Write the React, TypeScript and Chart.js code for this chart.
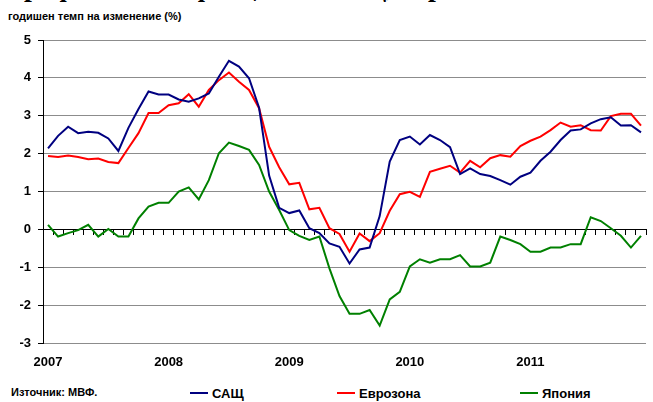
import React, { useEffect, useRef } from "react";
import { Chart, registerables } from "chart.js";

Chart.register(...registerables);

const years = ["2007", "2008", "2009", "2010", "2011"];
const monthCodes = ["01", "02", "03", "04", "05", "06", "07", "08", "09", "10", "11", "12"];
const categories = years.flatMap((y) => monthCodes.map((m) => `${y}-${m}`));

const usa = [
  2.14, 2.47, 2.71, 2.54, 2.58, 2.55, 2.40, 2.07, 2.68, 3.18, 3.64, 3.56,
  3.56, 3.43, 3.37, 3.46, 3.59, 4.03, 4.45, 4.30, 3.99, 3.21, 1.42, 0.57,
  0.43, 0.50, 0.03, -0.10, -0.37, -0.46, -0.90, -0.53, -0.48, 0.35, 1.79, 2.36,
  2.45, 2.24, 2.49, 2.36, 2.17, 1.46, 1.61, 1.46, 1.41, 1.30, 1.18, 1.39,
  1.50, 1.81, 2.05, 2.36, 2.61, 2.64, 2.80, 2.91, 2.96, 2.74, 2.75, 2.56,
];

const eurozone = [
  1.94, 1.91, 1.95, 1.91, 1.85, 1.87, 1.78, 1.75, 2.15, 2.54, 3.07, 3.07,
  3.28, 3.33, 3.57, 3.24, 3.68, 3.94, 4.14, 3.90, 3.68, 3.20, 2.18, 1.64,
  1.19, 1.23, 0.53, 0.57, 0.03, -0.12, -0.59, -0.11, -0.31, -0.10, 0.49, 0.93,
  0.99, 0.86, 1.52, 1.60, 1.68, 1.50, 1.81, 1.64, 1.88, 1.96, 1.92, 2.20,
  2.34, 2.45, 2.62, 2.82, 2.71, 2.75, 2.62, 2.61, 2.99, 3.05, 3.05, 2.74,
];

const japan = [
  0.12, -0.19, -0.10, -0.02, 0.12, -0.19, 0.01, -0.19, -0.19, 0.29, 0.60, 0.70,
  0.70, 1.00, 1.11, 0.79, 1.30, 2.01, 2.29, 2.20, 2.10, 1.70, 1.00, 0.51,
  -0.02, -0.17, -0.28, -0.19, -1.03, -1.76, -2.23, -2.23, -2.13, -2.54, -1.85, -1.65,
  -0.98, -0.79, -0.88, -0.79, -0.79, -0.68, -0.98, -0.98, -0.88, -0.19, -0.28, -0.39,
  -0.59, -0.59, -0.48, -0.48, -0.39, -0.39, 0.32, 0.22, 0.03, -0.17, -0.48, -0.17,
];

const seriesNames = ["САЩ", "Еврозона", "Япония"];
const seriesColors = ["#000080", "#FF0000", "#008000"];

const FONT = "Arial, 'Liberation Sans', sans-serif";

export default function App() {
  const ref = useRef<HTMLCanvasElement | null>(null);

  useEffect(() => {
    if (!ref.current) return;
    const chart = new Chart(ref.current, {
      type: "line",
      data: {
        labels: categories,
        datasets: [usa, eurozone, japan].map((d, i) => ({
          label: seriesNames[i],
          data: d,
          borderColor: seriesColors[i],
          backgroundColor: seriesColors[i],
          borderWidth: 2,
          pointRadius: 0,
          tension: 0,
          fill: false,
        })),
      },
      options: {
        animation: false,
        responsive: false,
        layout: { padding: { top: 40, right: 1, left: 0, bottom: 0 } },
        plugins: {
          legend: { display: false },
          tooltip: { enabled: false },
        },
        scales: {
          x: {
            type: "category",
            offset: true,
            position: "bottom",
            grid: { display: false, drawTicks: false },
            border: { display: false },
            ticks: {
              autoSkip: false,
              maxRotation: 0,
              padding: 12,
              color: "#000",
              font: { family: FONT, size: 13, weight: "bold" },
              callback: (_v: any, idx: number) => {
                const l = categories[idx];
                return l.endsWith("-01") ? l.slice(0, 4) : "";
              },
            },
            afterFit: (s: any) => {
              s.height = 32;
            },
          },
          x2: {
            type: "category",
            offset: true,
            position: { y: 0 },
            grid: {
              display: true,
              drawOnChartArea: false,
              drawTicks: true,
              tickLength: 5,
              tickColor: "#000",
              offset: true,
            },
            border: { display: true, color: "#000", width: 1 },
            ticks: { display: false },
          },
          y: {
            min: -3,
            max: 5,
            ticks: {
              stepSize: 1,
              padding: 7,
              color: "#000",
              font: { family: FONT, size: 13, weight: "bold" },
            },
            grid: {
              color: (ctx: any) => (ctx.tick && ctx.tick.value === 0 ? "#000" : "#8c8c8c"),
              tickColor: "#000",
              tickLength: 5,
              lineWidth: 1,
            },
            border: { display: true, color: "#000", width: 1 },
            afterFit: (s: any) => {
              s.width = 43;
            },
          },
        },
      } as any,
    });
    return () => chart.destroy();
  }, []);

  const legendItem = (i: number, left: number) => (
    <div
      key={i}
      style={{
        position: "absolute",
        left,
        top: 384,
        display: "flex",
        alignItems: "center",
        height: 18,
      }}
    >
      <div style={{ width: 18, height: 2, background: seriesColors[i], marginRight: 4 }} />
      <span style={{ font: `bold 13px ${FONT}`, color: "#000" }}>{seriesNames[i]}</span>
    </div>
  );

  return (
    <div
      style={{
        position: "absolute",
        left: 0,
        top: 0,
        width: 653,
        height: 402,
        background: "#fff",
        overflow: "hidden",
      }}
    >
      <div
        style={{
          position: "absolute",
          left: 0,
          top: 0,
          width: 653,
          height: 8,
          overflow: "hidden",
        }}
      >
        <div
          style={{
            position: "absolute",
            left: 8,
            top: -29,
            whiteSpace: "nowrap",
            font: "bold 28px 'Liberation Serif', 'Times New Roman', serif",
            color: "#000",
          }}
        >
          Графика 1. Инфлация в САЩ, еврозоната и Япония
        </div>
      </div>
      <div
        style={{
          position: "absolute",
          left: 8,
          top: 10,
          font: `bold 11px ${FONT}`,
          color: "#000",
          whiteSpace: "nowrap",
        }}
      >
        годишен темп на изменение (%)
      </div>
      <canvas
        ref={ref}
        width={653}
        height={375}
        style={{ position: "absolute", left: 0, top: 0, width: 653, height: 375 }}
      />
      <div
        style={{
          position: "absolute",
          left: 11,
          top: 386,
          font: `bold 11px ${FONT}`,
          color: "#000",
          whiteSpace: "nowrap",
        }}
      >
        Източник: МВФ.
      </div>
      {legendItem(0, 190)}
      {legendItem(1, 337)}
      {legendItem(2, 520)}
    </div>
  );
}
